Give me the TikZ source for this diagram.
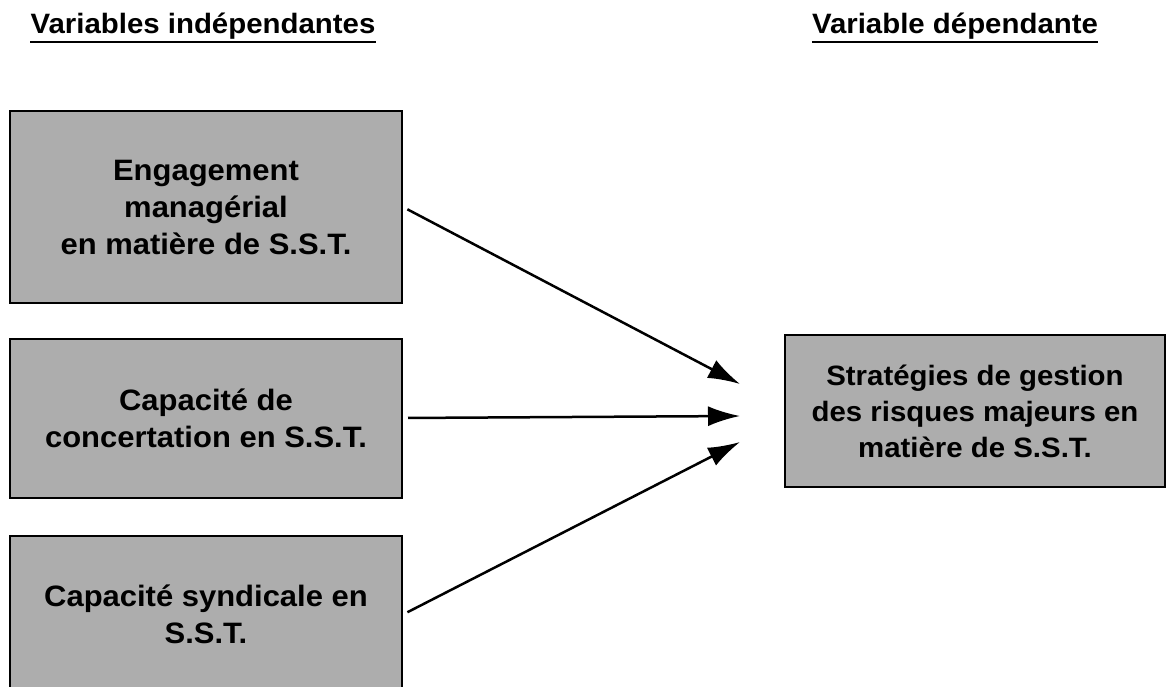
\documentclass[tikz,border=0pt]{standalone}
\usepackage{fontspec}
\setmainfont{Liberation Sans}[FakeStretch=1.05]
\usepackage{tikz}
\usetikzlibrary{positioning,arrows.meta,calc}
\definecolor{boxgrey}{HTML}{ADADAD}
\tikzset{
  var/.style   = {draw=black, fill=boxgrey, line width=2pt, align=center,
                  font=\fontsize{29.5}{37}\selectfont\bfseries,
                  minimum width=392pt, inner sep=4pt},
  dep/.style   = {var, font=\fontsize{28}{36}\selectfont\bfseries,
                  minimum width=380pt, minimum height=152pt},
  ttl/.style   = {font=\fontsize{28}{32}\selectfont\bfseries, inner sep=0pt,
                  anchor=base},
  uline/.style = {line width=2.2pt},
  arr/.style   = {-{Latex[length=32pt,width=20pt]}, line width=2.5pt,
                  shorten <=5pt},
}
\begin{document}
\begin{tikzpicture}[x=1pt,y=-1pt,node distance=34pt]
  \useasboundingbox[fill=white] (0,0) rectangle (1169,687);

  % --- titres ---
  \node[ttl] (tind) at (203,34) {Variables indépendantes};
  \node[ttl] (tdep) at (955,34) {Variable dépendante};
  \draw[uline] ($(tind.base west)+(0,8)$) -- ($(tind.base east)+(0,8)$);
  \draw[uline] ($(tdep.base west)+(0,8)$) -- ($(tdep.base east)+(0,8)$);

  % --- variables independantes ---
  \node[var, minimum height=191pt] (eng) at (206,207)
    {Engagement\\managérial\\en matière de S.S.T.};
  \node[var, minimum height=159pt, below=of eng] (conc)
    {Capacité de\\concertation en S.S.T.};
  \node[var, minimum height=158pt, below=36pt of conc] (synd)
    {Capacité syndicale en\\S.S.T.};

  % --- variable dependante ---
  \node[dep] (strat) at (975,411)
    {Stratégies de gestion\\des risques majeurs en\\matière de S.S.T.};

  \coordinate (e1) at ($(strat.west)+(-44,-27)$);
  \coordinate (e2) at ($(strat.west)+(-44,5)$);
  \coordinate (e3) at ($(strat.west)+(-44,31)$);

  \draw[arr] (eng.east)  -- (e1);
  \draw[arr] (conc.east) -- (e2);
  \draw[arr] (synd.east) -- (e3);
\end{tikzpicture}
\end{document}
